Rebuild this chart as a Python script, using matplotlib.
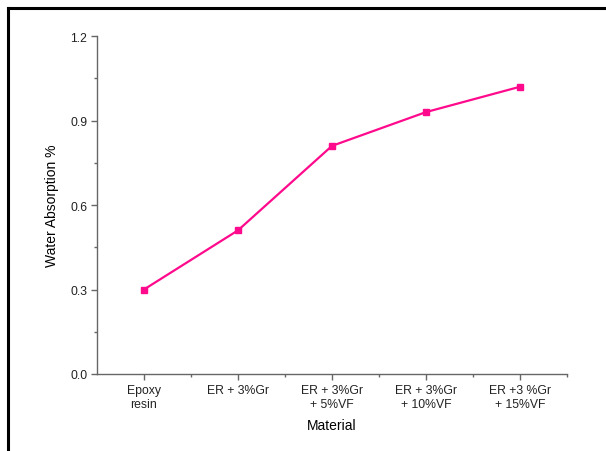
import matplotlib
matplotlib.use("Agg")
from matplotlib import pyplot as plt
from matplotlib.lines import Line2D
from matplotlib.ticker import MultipleLocator, FixedLocator

plt.rcParams['font.family'] = ['Liberation Sans', 'DejaVu Sans']

# Data
materials = ["Epoxy\nresin", "ER + 3%Gr", "ER + 3%Gr\n+ 5%VF",
             "ER + 3%Gr\n+ 10%VF", "ER +3 %Gr\n+ 15%VF"]
absorption = [0.30, 0.51, 0.81, 0.93, 1.02]

fig = plt.figure(figsize=(6.06, 4.52), dpi=100)
ax = fig.add_axes([0.16, 0.1704, 0.7756, 0.7476])

xs = list(range(len(materials)))
ax.plot(xs, absorption, '-s', color='#ff0a8c', lw=1.6, markersize=5)

ax.set_xlim(-0.5, len(materials) - 0.5)
ax.set_ylim(0, 1.2)
ax.set_xticks(xs)
ax.set_xticklabels(materials, fontsize=8.8, color='#222222', linespacing=1.2)
ax.xaxis.set_minor_locator(FixedLocator([i + 0.5 for i in xs]))
ax.yaxis.set_major_locator(MultipleLocator(0.3))
ax.yaxis.set_minor_locator(MultipleLocator(0.15))
ax.set_yticklabels([f"{v:.1f}" for v in ax.get_yticks()], fontsize=8.8, color='#222222')

for s in ['top', 'right']:
    ax.spines[s].set_visible(False)
for s in ['left', 'bottom']:
    ax.spines[s].set_color('#666666')
    ax.spines[s].set_linewidth(1.0)
ax.tick_params(which='major', length=4, width=1, color='#666666', pad=3)
ax.tick_params(which='minor', length=2.5, width=1, color='#666666')

ax.set_ylabel("Water Absorption %", fontsize=10, labelpad=8)
ax.set_xlabel("Material", fontsize=10, labelpad=6)

# outer frame (cropped: only left and top visible)
fig.add_artist(Line2D([0.0132, 0.0132], [0, 0.98], color='black', lw=2.2))
fig.add_artist(Line2D([0.0132, 1.0], [0.98, 0.98], color='black', lw=2.2))

fig.savefig("out.png", dpi=100)
